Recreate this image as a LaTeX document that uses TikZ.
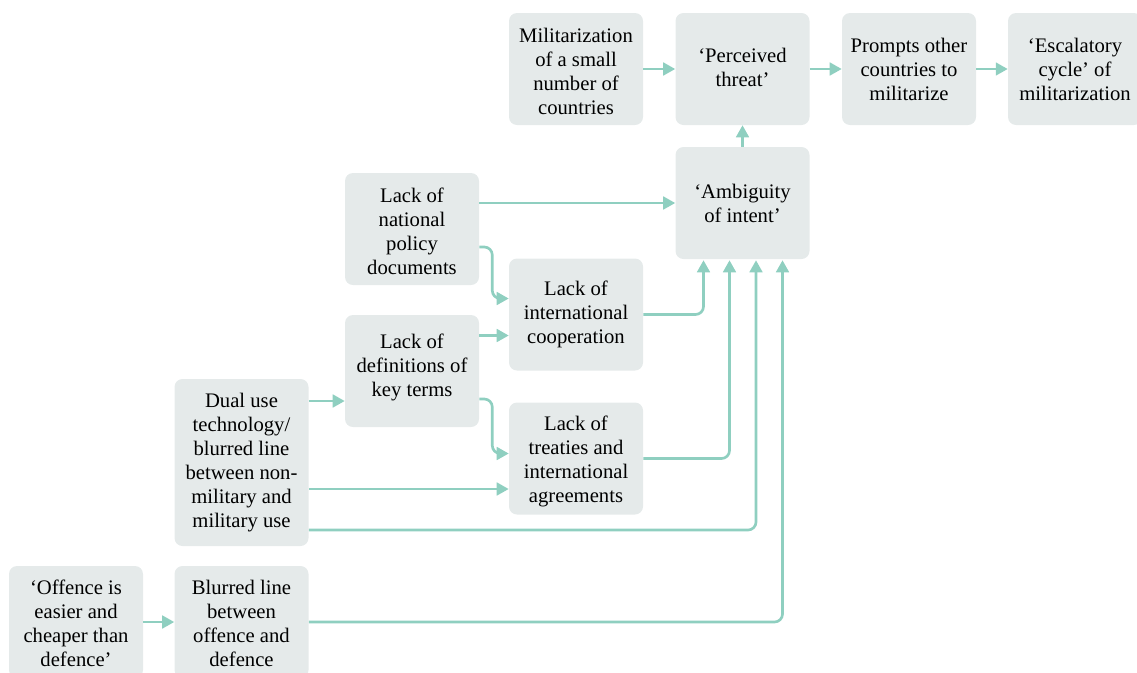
\documentclass[tikz,border=0pt]{standalone}
\usepackage{fontspec}
\setmainfont{Liberation Serif}
\usetikzlibrary{arrows.meta,calc}
\definecolor{boxfill}{HTML}{E5EAEA}
\definecolor{teal}{HTML}{8FCFC0}
\newcommand\uph[1]{\rule{0pt}{#1}}
\newcommand\dep[1]{\rule[-#1]{0pt}{0pt}}
\tikzset{
  box/.style={rectangle, rounded corners=6pt, fill=boxfill, draw=none,
    minimum width=100.5pt, minimum height=84pt, inner sep=0pt, align=center,
    font=\fontsize{15.5}{18}\selectfont},
  arr/.style={draw=teal, line width=2pt, rounded corners=6pt,
    -{Triangle[length=9pt,width=9.5pt]}},
}
\begin{document}
\begin{tikzpicture}[x=0.75pt,y=-0.75pt]
\useasboundingbox (0,0) rectangle (1137,672);
% top row
\node[box] (mil) at (576,69) {\uph{15.1pt}Militarization\\of a small\\number of\\countries};
\node[box] (per) at (742.5,69) {‘Perceived\\threat’\dep{3pt}};
\node[box] (pro) at (909,69) {Prompts other\\countries to\\militarize};
\node[box] (esc) at (1075,69) {‘Escalatory\\cycle’ of\\militarization};
% middle
\node[box] (amb) at (742.5,203) {‘Ambiguity\\of intent’};
\node[box] (nat) at (412,229) {\uph{15.1pt}Lack of\\national\\policy\\documents};
\node[box] (coop) at (576,314.5) {Lack of\\international\\cooperation};
\node[box] (defs) at (412,371) {Lack of\\definitions of\\key terms\dep{9.4pt}};
\node[box, minimum height=125.25pt] (dual) at (241.5,462.5) {Dual use\\technology/\\blurred line\\between non-\\military and\\military use};
\node[box] (treat) at (576,458.5) {\uph{15.1pt}Lack of\\treaties and\\international\\agreements};
\node[box] (off) at (76,622) {\uph{13.6pt}‘Offence is\\easier and\\cheaper than\\defence’};
\node[box] (blur) at (241.5,622) {\uph{13.6pt}Blurred line\\between\\offence and\\defence};
% helper coordinates
\coordinate (cA) at ($(coop.west)+(0,21)$);
\coordinate (cB) at ($(defs.west)+(0,30)$);
\coordinate (cC) at ($(treat.west)+(0,30.5)$);
% connectors
\draw[arr] (mil) -- (per);
\draw[arr] (per) -- (pro);
\draw[arr] (pro) -- (esc);
\draw[arr] (amb) -- (per);
\draw[arr] (nat.east |- amb.west) -- (amb.west);
\draw[arr] ($(nat.east)+(0,18)$) -- ++(13,0) |- ($(coop.west)+(0,-16)$);
\draw[arr] (defs.east |- cA) -- (cA);
\draw[arr, shorten >=0.75pt] (coop.east) -| ($(amb.south)+(-39,0)$);
\draw[arr] ($(defs.east)+(0,28)$) -- ++(13,0) |- ($(treat.west)+(0,-5)$);
\draw[arr, shorten >=0.75pt] (treat.east) -| ($(amb.south)+(-13,0)$);
\draw[arr] (dual.east |- cB) -- (cB);
\draw[arr] (dual.east |- cC) -- (cC);
\draw[arr, shorten >=0.75pt] ($(dual.east)+(0,67.5)$) -| ($(amb.south)+(13.5,0)$);
\draw[arr] (off) -- (blur);
\draw[arr, shorten >=0.75pt] (blur.east) -| ($(amb.south)+(40,0)$);
\end{tikzpicture}
\end{document}
